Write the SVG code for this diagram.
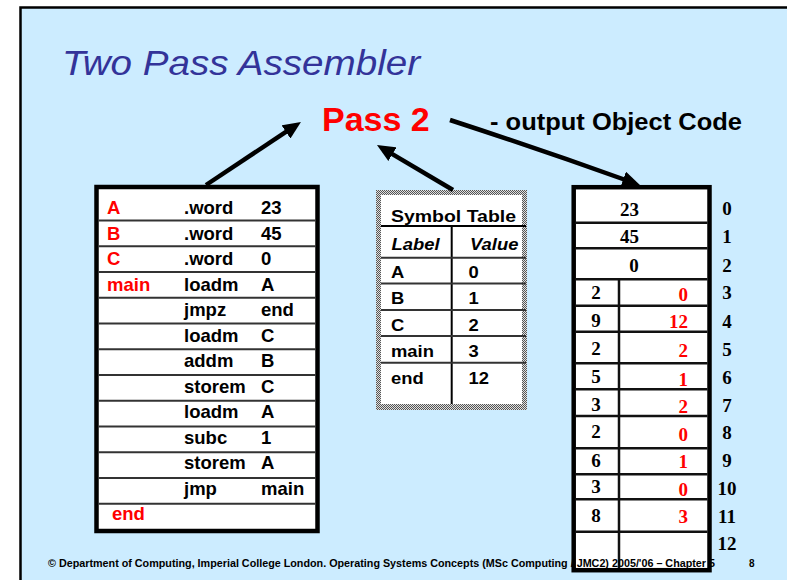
<svg xmlns="http://www.w3.org/2000/svg" width="787" height="580" viewBox="0 0 787 580">
<defs>
<style>
.sans{font-family:"Liberation Sans",Arial,sans-serif;font-weight:bold}
.serif{font-family:"Liberation Serif","Times New Roman",serif;font-weight:bold}
.t18{font-size:18.5px}
.t16{font-size:16px}
.t19{font-size:19px}
.red{fill:#ff0000}
.blk{fill:#000}
.sep{stroke:#333;stroke-width:2}
.msep{stroke:#111;stroke-width:2.5}
.conn{stroke:#000;stroke-width:4.5;fill:none}
</style>
<pattern id="chk" width="2" height="2" patternUnits="userSpaceOnUse">
<rect width="2" height="2" fill="#e0e0e0"/>
<rect width="1" height="1" fill="#555"/>
<rect x="1" y="1" width="1" height="1" fill="#555"/>
</pattern>
<marker id="ah" markerUnits="userSpaceOnUse" markerWidth="18" markerHeight="16" viewBox="0 0 18 16" refX="4" refY="8" orient="auto">
<path d="M0,0 L18,8 L0,16 z" fill="#000"/>
</marker>
</defs>

<rect x="0" y="0" width="787" height="580" fill="#fff"/>
<rect x="20.5" y="7.5" width="790" height="600" fill="#CCECFF" stroke="#000" stroke-width="2.5"/>

<g id="title">
<text x="62" y="75" font-family="Liberation Sans,Arial,sans-serif" font-style="italic" font-size="35" fill="#333399" textLength="358" lengthAdjust="spacingAndGlyphs">Two Pass Assembler</text>
</g>

<g id="pass2">
<text x="322" y="131" class="sans red" font-size="34">Pass 2</text>
</g>

<g id="output-label">
<text x="490" y="130" class="sans blk" font-size="24" textLength="252" lengthAdjust="spacingAndGlyphs">- output Object Code</text>
</g>

<g id="program">
<rect x="96.5" y="187" width="221" height="344" fill="#fff" stroke="#000" stroke-width="4.5"/>
<g class="sep">
<line x1="98.5" y1="220.5" x2="315.5" y2="220.5"/>
<line x1="98.5" y1="246.3" x2="315.5" y2="246.3"/>
<line x1="98.5" y1="272" x2="315.5" y2="272"/>
<line x1="98.5" y1="297.7" x2="315.5" y2="297.7"/>
<line x1="98.5" y1="323.5" x2="315.5" y2="323.5"/>
<line x1="98.5" y1="349.2" x2="315.5" y2="349.2"/>
<line x1="98.5" y1="375" x2="315.5" y2="375"/>
<line x1="98.5" y1="400.7" x2="315.5" y2="400.7"/>
<line x1="98.5" y1="426.5" x2="315.5" y2="426.5"/>
<line x1="98.5" y1="452.2" x2="315.5" y2="452.2"/>
<line x1="98.5" y1="478" x2="315.5" y2="478"/>
<line x1="98.5" y1="503.7" x2="315.5" y2="503.7"/>
</g>
<g class="sans t18">
<text x="107" y="214" class="red">A</text><text x="184" y="214">.word</text><text x="261" y="214">23</text>
<text x="107" y="239.5" class="red">B</text><text x="184" y="239.5">.word</text><text x="261" y="239.5">45</text>
<text x="107" y="265" class="red">C</text><text x="184" y="265">.word</text><text x="261" y="265">0</text>
<text x="107" y="290.5" class="red">main</text><text x="184" y="290.5">loadm</text><text x="261" y="290.5">A</text>
<text x="184" y="316">jmpz</text><text x="261" y="316">end</text>
<text x="184" y="341.5">loadm</text><text x="261" y="341.5">C</text>
<text x="184" y="367">addm</text><text x="261" y="367">B</text>
<text x="184" y="392.5">storem</text><text x="261" y="392.5">C</text>
<text x="184" y="418">loadm</text><text x="261" y="418">A</text>
<text x="184" y="443.5">subc</text><text x="261" y="443.5">1</text>
<text x="184" y="469">storem</text><text x="261" y="469">A</text>
<text x="184" y="494.5">jmp</text><text x="261" y="494.5">main</text>
<text x="112" y="519.5" class="red">end</text>
</g>
</g>

<g id="symbol-table">
<rect x="376" y="190" width="151" height="220" fill="url(#chk)"/>
<rect x="381" y="195" width="141" height="209" fill="#fff"/>
<line x1="381" y1="226" x2="526" y2="226" stroke="#000" stroke-width="2"/>
<line x1="451.7" y1="226" x2="451.7" y2="404" stroke="#000" stroke-width="2"/>
<g class="sep">
<line x1="381" y1="257.7" x2="526" y2="257.7"/>
<line x1="381" y1="283.5" x2="526" y2="283.5"/>
<line x1="381" y1="310" x2="526" y2="310"/>
<line x1="381" y1="336" x2="526" y2="336"/>
<line x1="381" y1="362.7" x2="526" y2="362.7"/>
</g>
<text x="391" y="221.5" class="sans" font-size="17" textLength="125" lengthAdjust="spacingAndGlyphs">Symbol Table</text>
<g class="sans t16">
<text transform="matrix(1.15 0 0 1 391.5 250)" font-style="italic">Label</text>
<text transform="matrix(1.15 0 0 1 470 250)" font-style="italic">Value</text>
<text transform="matrix(1.15 0 0 1 391 277.5)">A</text><text transform="matrix(1.15 0 0 1 468.5 277.5)">0</text>
<text transform="matrix(1.15 0 0 1 391 304)">B</text><text transform="matrix(1.15 0 0 1 468.5 304)">1</text>
<text transform="matrix(1.15 0 0 1 391 330.5)">C</text><text transform="matrix(1.15 0 0 1 468.5 330.5)">2</text>
<text transform="matrix(1.15 0 0 1 391 357)">main</text><text transform="matrix(1.15 0 0 1 468.5 357)">3</text>
<text transform="matrix(1.15 0 0 1 391 383.5)">end</text><text transform="matrix(1.15 0 0 1 468.5 383.5)">12</text>
</g>
</g>

<g id="memory">
<rect x="573.7" y="187.2" width="135.8" height="383" fill="#fff" stroke="#000" stroke-width="4.5"/>
<g class="msep">
<line x1="575.5" y1="222.7" x2="707.5" y2="222.7"/>
<line x1="575.5" y1="248.3" x2="707.5" y2="248.3"/>
<line x1="575.5" y1="279.3" x2="707.5" y2="279.3"/>
<line x1="575.5" y1="305.7" x2="707.5" y2="305.7"/>
<line x1="575.5" y1="331.7" x2="707.5" y2="331.7"/>
<line x1="575.5" y1="363.3" x2="707.5" y2="363.3"/>
<line x1="575.5" y1="389.3" x2="707.5" y2="389.3"/>
<line x1="575.5" y1="416" x2="707.5" y2="416"/>
<line x1="575.5" y1="448.3" x2="707.5" y2="448.3"/>
<line x1="575.5" y1="474.3" x2="707.5" y2="474.3"/>
<line x1="575.5" y1="499.3" x2="707.5" y2="499.3"/>
<line x1="575.5" y1="531.7" x2="707.5" y2="531.7"/>
<line x1="619" y1="279.3" x2="619" y2="568"/>
</g>
<g class="serif t19" text-anchor="middle">
<text x="629.5" y="216">23</text>
<text x="629.5" y="243.3">45</text>
<text x="634" y="271.7">0</text>
<text x="596" y="299">2</text>
<text x="596" y="327">9</text>
<text x="596" y="355">2</text>
<text x="596" y="382.7">5</text>
<text x="596" y="410.7">3</text>
<text x="596" y="438.3">2</text>
<text x="596" y="466.7">6</text>
<text x="596" y="493.3">3</text>
<text x="596" y="521.7">8</text>
</g>
<g class="serif t19 red" text-anchor="end">
<text x="688" y="300.7">0</text>
<text x="688" y="328.3">12</text>
<text x="688" y="356.7">2</text>
<text x="688" y="386">1</text>
<text x="688" y="413.3">2</text>
<text x="688" y="440.7">0</text>
<text x="688" y="468.3">1</text>
<text x="688" y="496">0</text>
<text x="688" y="523.3">3</text>
</g>
<g class="serif t19" text-anchor="middle">
<text x="727" y="215">0</text>
<text x="727" y="243.3">1</text>
<text x="727" y="271.7">2</text>
<text x="727" y="299.3">3</text>
<text x="727" y="327.7">4</text>
<text x="727" y="355.7">5</text>
<text x="727" y="384">6</text>
<text x="727" y="411.7">7</text>
<text x="727" y="439.3">8</text>
<text x="727" y="467.3">9</text>
<text x="727" y="495">10</text>
<text x="727" y="522.7">11</text>
<text x="727" y="550">12</text>
</g>
</g>

<g id="connectors">
<path class="conn" d="M206,185 L289.3,129.7" marker-end="url(#ah)"/>
<path class="conn" d="M453,190 L389,152.1" marker-end="url(#ah)"/>
<path class="conn" d="M450,120 Q542,150 627,180.5" marker-end="url(#ah)"/>
</g>

<g id="footer">
<text x="48" y="567" class="sans" font-size="10" textLength="667" lengthAdjust="spacingAndGlyphs">© Department of Computing, Imperial College London.  Operating Systems Concepts (MSc Computing / JMC2) 2005/'06 – Chapter 5</text>
<text x="749" y="567" class="sans" font-size="10">8</text>
</g>
</svg>
